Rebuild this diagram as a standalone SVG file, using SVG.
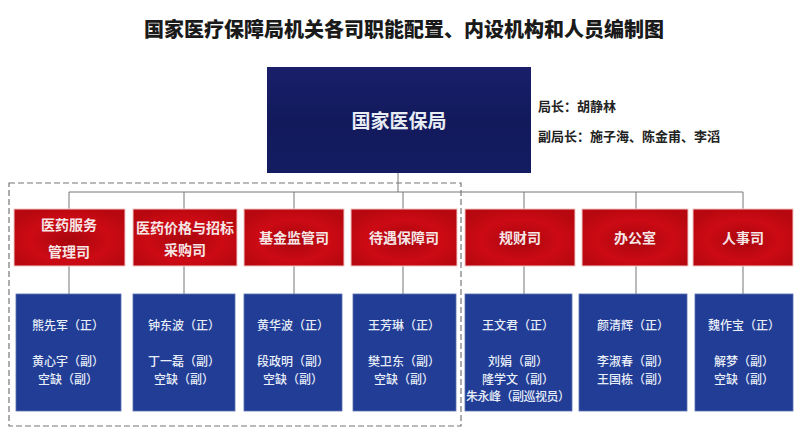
<svg xmlns="http://www.w3.org/2000/svg" width="800" height="440" viewBox="0 0 800 440">
<defs>
<linearGradient id="navy" x1="0" y1="0" x2="0" y2="1">
<stop offset="0" stop-color="#1a1f6a"/>
<stop offset="0.5" stop-color="#121a5c"/>
<stop offset="1" stop-color="#141c62"/>
</linearGradient>
<radialGradient id="red" cx="0.5" cy="0.55" r="0.6">
<stop offset="0" stop-color="#a8060e"/>
<stop offset="0.6" stop-color="#cc0a14"/>
<stop offset="1" stop-color="#b8080f"/>
</radialGradient>
<style>
text{font-family:"Noto Sans CJK SC","Noto Sans",sans-serif;}
.title{font-size:20px;font-weight:900;fill:#1a1a1a;text-anchor:middle;}
.side{font-size:13px;font-weight:bold;fill:#222;}
.top{font-size:19px;font-weight:bold;fill:#e8ecf4;text-anchor:middle;}
.rbox{fill:url(#red);stroke:#f3c6c6;stroke-width:1;}
.rt{font-size:14px;font-weight:bold;fill:#f6e6e6;text-anchor:middle;}
.bbox{fill:#213d96;stroke:#5a6fae;stroke-width:0.8;}
.bt{font-size:12px;font-weight:500;fill:#e8eef8;text-anchor:middle;}
.ln{stroke:#777;stroke-width:1;fill:none;}
.dash{stroke:#777;stroke-width:1.2;fill:none;stroke-dasharray:6 3;}
</style>
</defs>
<rect width="800" height="440" fill="#ffffff"/>
<text class="title" x="404" y="37">国家医疗保障局机关各司职能配置、内设机构和人员编制图</text>

<g id="connectors">
<line class="ln" x1="398" y1="173" x2="398" y2="192"/>
<line class="ln" x1="69" y1="192" x2="743" y2="192"/>
<line class="ln" x1="69" y1="192" x2="69" y2="209"/>
<line class="ln" x1="184" y1="192" x2="184" y2="209"/>
<line class="ln" x1="294" y1="192" x2="294" y2="209"/>
<line class="ln" x1="403" y1="192" x2="403" y2="209"/>
<line class="ln" x1="524" y1="192" x2="524" y2="209"/>
<line class="ln" x1="636" y1="192" x2="636" y2="209"/>
<line class="ln" x1="743" y1="192" x2="743" y2="209"/>
<line class="ln" x1="69" y1="266" x2="69" y2="294"/>
<line class="ln" x1="184" y1="266" x2="184" y2="294"/>
<line class="ln" x1="294" y1="266" x2="294" y2="294"/>
<line class="ln" x1="403" y1="266" x2="403" y2="294"/>
<line class="ln" x1="524" y1="266" x2="524" y2="294"/>
<line class="ln" x1="636" y1="266" x2="636" y2="294"/>
<line class="ln" x1="743" y1="266" x2="743" y2="294"/>
</g>

<rect class="dash" x="9" y="183" width="452" height="243"/>

<g id="nhsa">
<rect x="267" y="67" width="264" height="106" fill="url(#navy)"/>
<text class="top" x="399" y="128">国家医保局</text>
</g>
<g id="leaders">
<text class="side" x="538" y="111">局长：胡静林</text>
<text class="side" x="538" y="141">副局长：施子海、陈金甫、李滔</text>
</g>

<g id="d1">
<rect class="rbox" x="14" y="209" width="111" height="57"/>
<text class="rt" x="69" y="230">医药服务</text>
<text class="rt" x="69" y="257">管理司</text>
</g>
<g id="d2">
<rect class="rbox" x="133" y="209" width="104" height="57"/>
<text class="rt" x="185" y="233">医药价格与招标</text>
<text class="rt" x="185" y="255">采购司</text>
</g>
<g id="d3">
<rect class="rbox" x="244" y="209" width="100" height="57"/>
<text class="rt" x="294" y="243">基金监管司</text>
</g>
<g id="d4">
<rect class="rbox" x="351" y="209" width="106" height="57"/>
<text class="rt" x="404" y="243">待遇保障司</text>
</g>
<g id="d5">
<rect class="rbox" x="465" y="209" width="110" height="57"/>
<text class="rt" x="520" y="243">规财司</text>
</g>
<g id="d6">
<rect class="rbox" x="582" y="209" width="106" height="57"/>
<text class="rt" x="635" y="243">办公室</text>
</g>
<g id="d7">
<rect class="rbox" x="693" y="209" width="100" height="57"/>
<text class="rt" x="743" y="243">人事司</text>
</g>

<g id="p1">
<rect class="bbox" x="16" y="294" width="105" height="117"/>
<text class="bt" x="68" y="330">熊先军（正）</text>
<text class="bt" x="68" y="366">黄心宇（副）</text>
<text class="bt" x="68" y="384">空缺（副）</text>
</g>
<g id="p2">
<rect class="bbox" x="133" y="294" width="102" height="117"/>
<text class="bt" x="184" y="330">钟东波（正）</text>
<text class="bt" x="184" y="366">丁一磊（副）</text>
<text class="bt" x="184" y="384">空缺（副）</text>
</g>
<g id="p3">
<rect class="bbox" x="244" y="294" width="98" height="117"/>
<text class="bt" x="293" y="330">黄华波（正）</text>
<text class="bt" x="293" y="366">段政明（副）</text>
<text class="bt" x="293" y="384">空缺（副）</text>
</g>
<g id="p4">
<rect class="bbox" x="353" y="294" width="103" height="117"/>
<text class="bt" x="404" y="330">王芳琳（正）</text>
<text class="bt" x="404" y="366">樊卫东（副）</text>
<text class="bt" x="404" y="384">空缺（副）</text>
</g>
<g id="p5">
<rect class="bbox" x="465" y="294" width="107" height="117"/>
<text class="bt" x="518" y="330">王文君（正）</text>
<text class="bt" x="518" y="366">刘娟（副）</text>
<text class="bt" x="518" y="384">隆学文（副）</text>
<text class="bt" x="518" y="401" textLength="104">朱永峰（副巡视员）</text>
</g>
<g id="p6">
<rect class="bbox" x="579" y="294" width="108" height="117"/>
<text class="bt" x="633" y="330">颜清辉（正）</text>
<text class="bt" x="633" y="366">李淑春（副）</text>
<text class="bt" x="633" y="384">王国栋（副）</text>
</g>
<g id="p7">
<rect class="bbox" x="695" y="294" width="98" height="117"/>
<text class="bt" x="744" y="330">魏作宝（正）</text>
<text class="bt" x="744" y="366">解梦（副）</text>
<text class="bt" x="744" y="384">空缺（副）</text>
</g>
</svg>
